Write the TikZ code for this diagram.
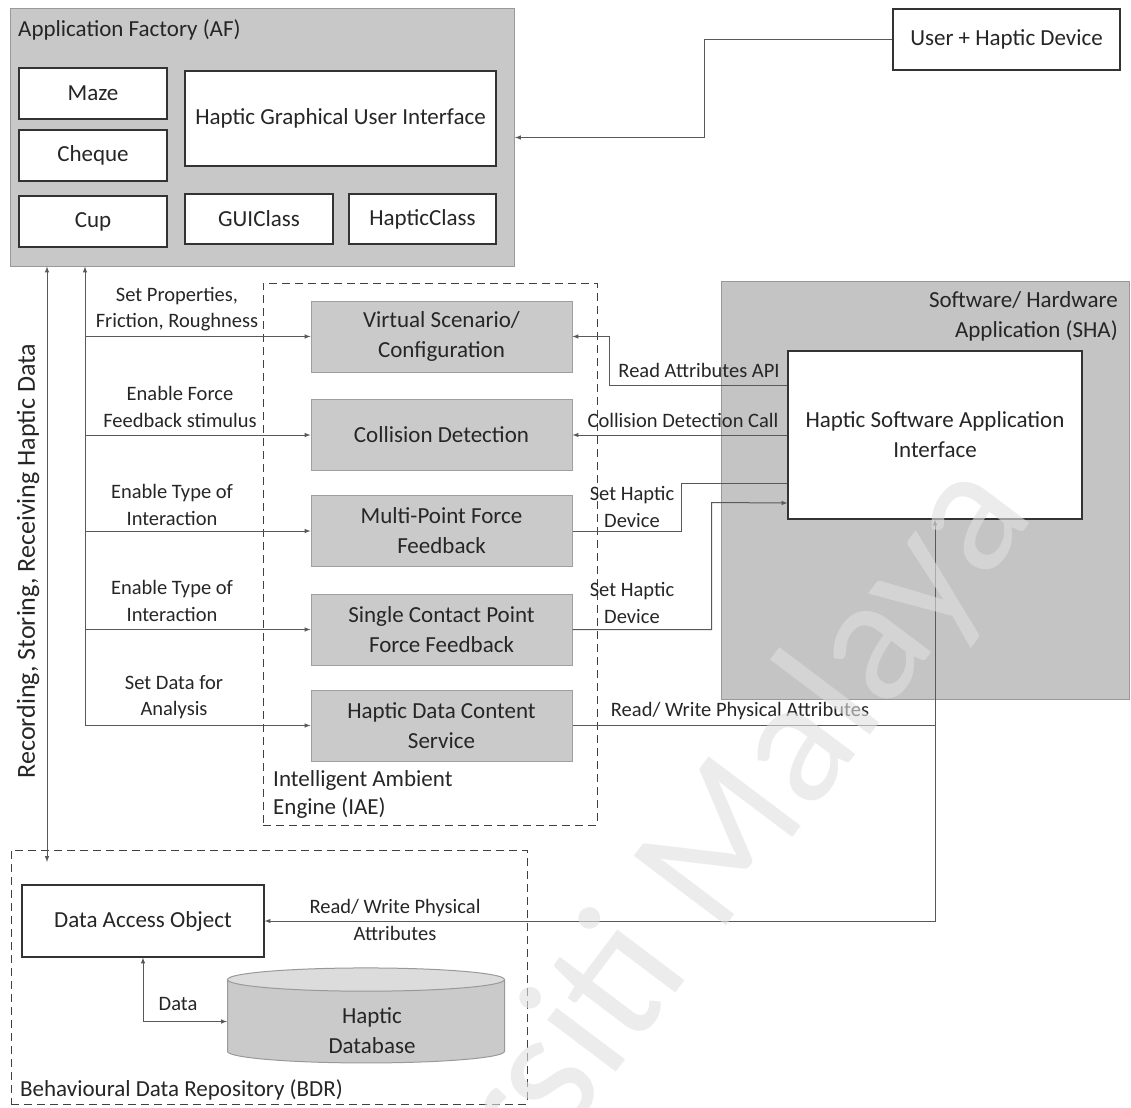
\documentclass[tikz,border=0pt]{standalone}
\usepackage{fontspec}
\setmainfont{Carlito}
\usetikzlibrary{shapes.geometric}
\definecolor{afgray}{HTML}{C8C8C8}
\definecolor{boxgray}{HTML}{CACACA}
\definecolor{capgray}{HTML}{DCDCDC}
\definecolor{shagray}{HTML}{C4C4C4}
\definecolor{wmgray}{HTML}{E0E0E0}
\tikzset{
  every node/.style={font=\fontsize{23}{30}\selectfont, text=black!85, inner sep=0pt},
  whitebox/.style={draw=black!80, line width=1.2pt, fill=white, align=center},
  graybox/.style={draw=gray!75, line width=1pt, fill=boxgray, minimum width=261, minimum height=71, align=center},
  groupbox/.style={draw=black!75, line width=1pt, dashed, dash pattern=on 8pt off 5pt},
  conn/.style={draw=black!65, line width=1pt},
  lbl/.style={align=center, font=\fontsize{20.5}{26.5}\selectfont}
}
\begin{document}
\begin{tikzpicture}[x=1pt, y=-1pt, >=latex]
  \useasboundingbox (0,0) rectangle (1131,1107);
  % Application Factory
  \node[draw=gray!80, line width=1pt, fill=afgray, minimum width=504, minimum height=257] (af) at (262.5,137.5) {};
  \node[anchor=base west] (aftitle) at (18,37) {Application Factory (AF)};
  \node[whitebox, minimum width=148, minimum height=51] (maze) at (93,93.5) {Maze};
  \node[whitebox, minimum width=148, minimum height=51] (cheque) at (93,155.5) {Cheque};
  \node[whitebox, minimum width=148, minimum height=51] (cup) at (93,221.5) {Cup};
  \node[whitebox, minimum width=311, minimum height=95] (hgui) at (340.5,118.5) {Haptic Graphical User Interface};
  \node[whitebox, minimum width=148, minimum height=50] (guiclass) at (259,219) {GUIClass};
  \node[whitebox, minimum width=147, minimum height=50] (hapticclass) at (422.5,219) {HapticClass};
  \node[whitebox, minimum width=227, minimum height=61] (user) at (1006.5,39.5) {User + Haptic Device};
  % Software / Hardware Application
  \node[draw=gray!80, line width=1pt, fill=shagray, minimum width=408, minimum height=418] (sha) at (925,490) {};
  \node[anchor=east, align=right] (shatitle) at (1118,316) {Software/ Hardware\\Application (SHA)};
  \node[whitebox, minimum width=294, minimum height=168] (hsai) at (935,435) {Haptic Software Application\\Interface};
  % Intelligent Ambient Engine
  \node[groupbox, minimum width=334, minimum height=542] (iae) at (430,554) {};
  \node[graybox] (vsc) at (441.5,336.5) {Virtual Scenario/\\Configuration};
  \node[graybox] (coll) at (441.5,435) {Collision Detection};
  \node[graybox] (mpff) at (441.5,531) {Multi-Point Force\\Feedback};
  \node[graybox] (scpff) at (441.5,629.5) {Single Contact Point\\Force Feedback};
  \node[graybox] (hdcs) at (441.5,725.5) {Haptic Data Content\\Service};
  \node[anchor=west, align=left, font=\fontsize{23}{28}\selectfont] (iaetitle) at (273,794) {Intelligent Ambient\\Engine (IAE)};
  % Behavioural Data Repository
  \node[groupbox, minimum width=516, minimum height=254] (bdr) at (269,977) {};
  \node[whitebox, minimum width=242, minimum height=72] (dao) at (143,921) {Data Access Object};
  \node[cylinder, shape border rotate=90, aspect=0.3, draw=gray!80, line width=1pt,
        cylinder uses custom fill, cylinder body fill=boxgray, cylinder end fill=capgray,
        minimum width=277, minimum height=95, lbl] (hdb) at (366,1021.5) {\phantom{Haptic}\\\phantom{Database}};
  \node[align=center] (hdbtext) at (372,1031) {Haptic\\Database};
  \node[anchor=base west] (bdrtitle) at (20,1096) {Behavioural Data Repository (BDR)};
  % connectors
  \coordinate (bus) at (85,0);
  \coordinate (rec) at (47,862);
  \draw[conn,->] (user.west) -- ++(-188,0) |- (af.east);
  \draw[conn,<->] (af.south -| rec) -- (rec);
  \draw[conn,->] (hdcs.west -| bus) -- (af.south -| bus);
  \foreach \b in {vsc,coll,mpff,scpff,hdcs}
    \draw[conn,->] (\b.west -| bus) -- (\b.west);
  \draw[conn,->] (hsai.west) ++(0,-50) -| ++(-178,0) |- (vsc.east);
  \draw[conn,->] (hsai.west) -- (coll.east);
  \draw[conn] (mpff.east) -| ++(109,-48) -- (hsai.west |- 0,483);
  \draw[conn,->] (scpff.east) -| ++(139,-127) -- (hsai.west |- 0,503);
  \draw[conn,->] (hdcs.east) -| (hsai.south);
  \draw[conn,->] (hdcs.east -| hsai.south) |- (dao.east);
  \draw[conn,<->] (dao.south) |- (hdb.west);
  % connector labels
  \node[lbl] (l1) at (177,309) {Set Properties,\\Friction, Roughness};
  \node[lbl] (l2) at (180,407) {Enable Force\\Feedback stimulus};
  \node[lbl] (l3) at (172,505) {Enable Type of\\Interaction};
  \node[lbl] (l4) at (172,601) {Enable Type of\\Interaction};
  \node[lbl] (l5) at (174,697) {Set Data for\\Analysis};
  \node[lbl] (r1) at (699,370) {Read Attributes API};
  \node[lbl] (r2) at (683,420) {Collision Detection Call};
  \node[lbl] (r3) at (632,507) {Set Haptic\\Device};
  \node[lbl] (r4) at (632,603) {Set Haptic\\Device};
  \node[lbl] (r5) at (740,711) {Read/ Write Physical Attributes};
  \node[lbl] (r6) at (395,920) {Read/ Write Physical\\Attributes};
  \node[lbl] (d1) at (178,1004) {Data};
  \node[rotate=90, font=\fontsize{26}{30}\selectfont] (rectitle) at (28,561) {Recording, Storing, Receiving Haptic Data};
  % watermark
  \node[rotate=53, font=\fontsize{180}{180}\selectfont, text=wmgray, text opacity=0.6] (wm) at (618,990) {Universiti Malaya};
\end{tikzpicture}
\end{document}
